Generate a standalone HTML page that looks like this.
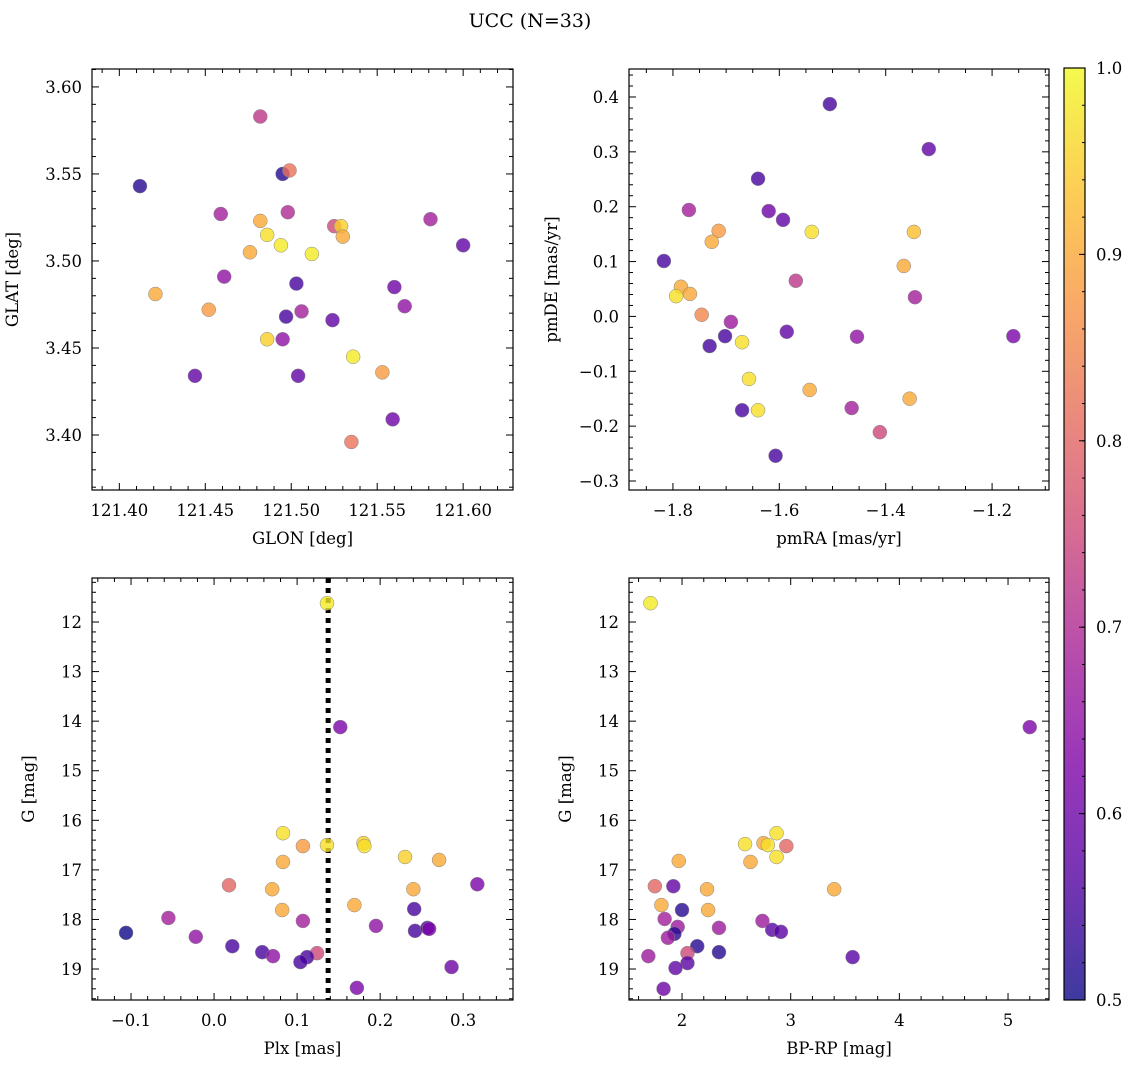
<!DOCTYPE html>
<html><head><meta charset="utf-8"><style>
body{margin:0;background:#fff;}
svg text{font-family:"DejaVu Serif","Liberation Serif",serif;fill:#000;}
</style></head><body>
<svg id="fig" width="1136" height="1068" viewBox="0 0 1136 1068" xmlns="http://www.w3.org/2000/svg">
<rect width="1136" height="1068" fill="#fff"/>
<text x="530" y="27" font-size="19" text-anchor="middle">UCC (N=33)</text>
</svg>
<script>
// ---- data ----
const prob1=[0.52,0.72,0.52,0.82,0.68,0.7,0.9,0.97,0.98,0.9,0.98,0.75,0.95,0.9,0.68,0.58,0.65,0.55,0.9,0.88,0.68,0.6,0.65,0.55,0.58,0.95,0.65,0.98,0.58,0.58,0.88,0.82,0.6];
const glon=[121.412,121.482,121.495,121.499,121.459,121.498,121.482,121.486,121.494,121.476,121.512,121.525,121.529,121.530,121.581,121.600,121.461,121.503,121.421,121.452,121.506,121.560,121.566,121.497,121.524,121.486,121.495,121.536,121.444,121.504,121.553,121.535,121.559];
const glat=[3.543,3.583,3.550,3.552,3.527,3.528,3.523,3.515,3.509,3.505,3.504,3.520,3.520,3.514,3.524,3.509,3.491,3.487,3.481,3.472,3.471,3.485,3.474,3.468,3.466,3.455,3.455,3.445,3.434,3.434,3.436,3.396,3.409];
const prob2=[0.55,0.58,0.55,0.68,0.6,0.58,0.88,0.97,0.93,0.9,0.55,0.72,0.9,0.9,0.9,0.97,0.68,0.85,0.67,0.55,0.58,0.65,0.97,0.62,0.55,0.97,0.9,0.9,0.55,0.97,0.68,0.75,0.55];
const pmra=[-1.505,-1.319,-1.640,-1.770,-1.620,-1.593,-1.714,-1.539,-1.347,-1.727,-1.817,-1.569,-1.366,-1.785,-1.768,-1.794,-1.345,-1.746,-1.691,-1.702,-1.586,-1.454,-1.670,-1.160,-1.731,-1.657,-1.543,-1.355,-1.670,-1.640,-1.464,-1.411,-1.607];
const pmde=[0.387,0.305,0.251,0.194,0.192,0.176,0.156,0.154,0.154,0.136,0.101,0.065,0.092,0.054,0.041,0.037,0.035,0.003,-0.010,-0.036,-0.028,-0.037,-0.047,-0.036,-0.054,-0.114,-0.134,-0.150,-0.171,-0.171,-0.167,-0.211,-0.254];
const prob3=[0.98,0.62,0.97,0.88,0.97,0.95,0.97,0.95,0.9,0.9,0.8,0.9,0.9,0.9,0.62,0.9,0.68,0.55,0.68,0.65,0.55,0.55,0.62,0.5,0.65,0.55,0.55,0.75,0.55,0.65,0.55,0.6,0.62];
const plx=[0.136,0.152,0.083,0.107,0.136,0.180,0.181,0.230,0.271,0.083,0.018,0.070,0.169,0.240,0.317,0.082,0.107,0.241,-0.055,0.195,0.242,0.257,0.259,-0.106,-0.022,0.022,0.058,0.124,0.112,0.071,0.104,0.286,0.172];
const gmag3=[11.62,14.12,16.26,16.52,16.50,16.46,16.52,16.74,16.80,16.84,17.31,17.39,17.71,17.39,17.29,17.81,18.03,17.79,17.97,18.13,18.23,18.17,18.19,18.27,18.35,18.54,18.66,18.68,18.76,18.74,18.86,18.96,19.38];
const prob4=[0.9,0.8,0.58,0.9,0.9,0.52,0.9,0.68,0.67,0.52,0.67,0.67,0.67,0.57,0.57,0.52,0.75,0.52,0.67,0.57,0.58,0.6,0.57,0.9,0.97,0.9,0.9,0.97,0.97,0.8,0.97,0.98,0.62];
const bprp=[1.97,1.75,1.92,2.23,1.81,2.00,2.24,1.84,1.96,1.93,1.87,2.34,2.74,2.83,2.91,2.14,2.05,2.34,1.69,2.05,1.94,1.83,3.57,3.40,2.58,2.63,2.75,2.79,2.87,2.96,2.87,1.71,5.20];
const gmag4=[16.82,17.33,17.33,17.39,17.71,17.81,17.81,17.99,18.15,18.29,18.37,18.17,18.03,18.21,18.25,18.54,18.68,18.66,18.74,18.88,18.98,19.40,18.76,17.39,16.48,16.84,16.46,16.50,16.26,16.52,16.74,11.62,14.12];
const plxLine=[0.1374];
const cbarTicks=[0.5,0.6,0.7,0.8,0.9,1.0];

const NS='http://www.w3.org/2000/svg';
const svg=document.getElementById('fig');
const FS=16.5;
function mk(tag,attrs,parent){const e=document.createElementNS(NS,tag);for(const k in attrs)e.setAttribute(k,attrs[k]);(parent||svg).appendChild(e);return e;}
const stops=[[0,[13,8,135]],[0.125,[84,2,163]],[0.25,[126,3,168]],[0.375,[166,32,152]],[0.5,[204,71,120]],[0.625,[230,108,92]],[0.75,[248,149,64]],[0.875,[253,195,40]],[1,[240,249,33]]];
function plasma(t){t=Math.max(0,Math.min(1,t));for(let i=1;i<stops.length;i++){if(t<=stops[i][0]){const a=stops[i-1],b=stops[i];const f=(t-a[0])/(b[0]-a[0]);return 'rgb('+a[1].map((v,j)=>Math.round(v+(b[1][j]-v)*f)).join(',')+')';}}return 'rgb(240,249,33)';}
function pcol(p){return plasma((p-0.5)/0.5);}
function fmt(v,d){let s=v.toFixed(d);if(s.startsWith('-'))s='\u2212'+s.slice(1);if(/^\u22120(\.0*)?$/.test(s))s=s.slice(1);return s;}

function panel(o){
  const g=mk('g',{});
  
  
  const sx=v=>o.x0+(v-o.xmin)/(o.xmax-o.xmin)*(o.x1-o.x0);
  const sy=o.yinv?(v=>o.y0+(v-o.ymin)/(o.ymax-o.ymin)*(o.y1-o.y0)):(v=>o.y1-(v-o.ymin)/(o.ymax-o.ymin)*(o.y1-o.y0));
  const tg=mk('g',{stroke:'#000','stroke-width':1},g);
  for(let v=Math.ceil(o.xmin/o.xminor-1e-9)*o.xminor;v<=o.xmax+1e-9;v+=o.xminor){const x=sx(v);
    const isMaj=Math.abs(v/o.xmajor-Math.round(v/o.xmajor))<1e-6;const L=isMaj?7:4;
    mk('line',{x1:x,y1:o.y1,x2:x,y2:o.y1-L},tg);mk('line',{x1:x,y1:o.y0,x2:x,y2:o.y0+L},tg);
    if(isMaj){const t=mk('text',{x:x,y:o.y1+26,'font-size':FS,'text-anchor':'middle'},g);t.textContent=fmt(Math.round(v/o.xmajor)*o.xmajor,o.xdec);
      
      }}
  for(let v=Math.ceil(o.ymin/o.yminor-1e-9)*o.yminor;v<=o.ymax+1e-9;v+=o.yminor){const y=sy(v);
    const isMaj=Math.abs(v/o.ymajor-Math.round(v/o.ymajor))<1e-6;const L=isMaj?7:4;
    mk('line',{x1:o.x0,y1:y,x2:o.x0+L,y2:y},tg);mk('line',{x1:o.x1,y1:y,x2:o.x1-L,y2:y},tg);
    if(isMaj){const t=mk('text',{x:o.x0-10,y:y+6,'font-size':FS,'text-anchor':'end'},g);t.textContent=fmt(Math.round(v/o.ymajor)*o.ymajor,o.ydec);
      
      }}
  if(o.vline){for(const v of o.vline){const l=mk('line',{x1:sx(v),y1:o.y0,x2:sx(v),y2:o.y1,stroke:'#000','stroke-width':5,'stroke-dasharray':'5,5'},g);
    
    }}
  for(let i=0;i<o.xs.length;i++){const c=mk('circle',{cx:sx(o.xs[i]),cy:sy(o.ys[i]),r:7,fill:pcol(o.c[i]),'fill-opacity':0.8,stroke:'#888','stroke-width':0.5},g);
    
    }
  mk('rect',{x:o.x0,y:o.y0,width:o.x1-o.x0,height:o.y1-o.y0,fill:'none',stroke:'#000','stroke-width':1.2},g);
  const xt=mk('text',{x:(o.x0+o.x1)/2,y:o.y1+54,'font-size':FS,'text-anchor':'middle'},g);xt.textContent=o.xlabel;
  
  
  const yx=o.x0-o.ytoff;const yc=(o.y0+o.y1)/2;
  const yt=mk('text',{x:yx,y:yc,'font-size':FS,'text-anchor':'middle',transform:`rotate(-90 ${yx} ${yc})`},g);yt.textContent=o.ylabel;
  
  
}
panel({name:'panel-glon-glat',x0:92,x1:513,y0:69,y1:490,xmin:121.3841,xmax:121.629,ymin:3.3684,ymax:3.6103,xmajor:0.05,xminor:0.01,ymajor:0.05,yminor:0.01,xdec:2,ydec:2,xs:glon,ys:glat,c:prob1,xlabel:'GLON [deg]',ylabel:'GLAT [deg]',ytoff:74});
panel({name:'panel-pmra-pmde',x0:629,x1:1049,y0:69,y1:490,xmin:-1.8826,xmax:-1.093,ymin:-0.3164,ymax:0.451,xmajor:0.2,xminor:0.05,ymajor:0.1,yminor:0.02,xdec:1,ydec:1,xs:pmra,ys:pmde,c:prob2,xlabel:'pmRA [mas/yr]',ylabel:'pmDE [mas/yr]',ytoff:72});
panel({name:'panel-plx-g',x0:92,x1:513,y0:578,y1:1000,xmin:-0.147,xmax:0.360,ymin:11.112,ymax:19.625,yinv:true,xmajor:0.1,xminor:0.02,ymajor:1,yminor:0.2,xdec:1,ydec:0,xs:plx,ys:gmag3,c:prob3,xlabel:'Plx [mas]',ylabel:'G [mag]',ytoff:58,vline:plxLine});
panel({name:'panel-bprp-g',x0:629,x1:1049,y0:578,y1:1000,xmin:1.512,xmax:5.377,ymin:11.112,ymax:19.625,yinv:true,xmajor:1,xminor:0.2,ymajor:1,yminor:0.2,xdec:0,ydec:0,xs:bprp,ys:gmag4,c:prob4,xlabel:'BP-RP [mag]',ylabel:'G [mag]',ytoff:58});

// colorbar
const cb=mk('g',{});


const defs=mk('defs',{},cb);const lg=mk('linearGradient',{id:'pl',x1:0,y1:1,x2:0,y2:0},defs);
for(let i=0;i<=20;i++){mk('stop',{offset:i/20,'stop-color':plasma(i/20),'stop-opacity':0.8},lg);}
const cx0=1064,cx1=1085,cy0=68,cy1=1000;
mk('rect',{x:cx0,y:cy0,width:cx1-cx0,height:cy1-cy0,fill:'url(#pl)',stroke:'#000','stroke-width':1.2},cb);
const cy=v=>cy1-(v-0.5)/0.5*(cy1-cy0);
for(let v=0.5;v<=1.0001;v+=0.02){const y=cy(v);mk('line',{x1:cx1,y1:y,x2:cx1-3,y2:y,stroke:'#000'},cb);}
for(const v of cbarTicks){const y=cy(v);mk('line',{x1:cx1,y1:y,x2:cx1-6,y2:y,stroke:'#000'},cb);
  const t=mk('text',{x:1096,y:y+6,'font-size':FS},cb);t.textContent=v.toFixed(1);
  
  }
</script>
</body></html>
